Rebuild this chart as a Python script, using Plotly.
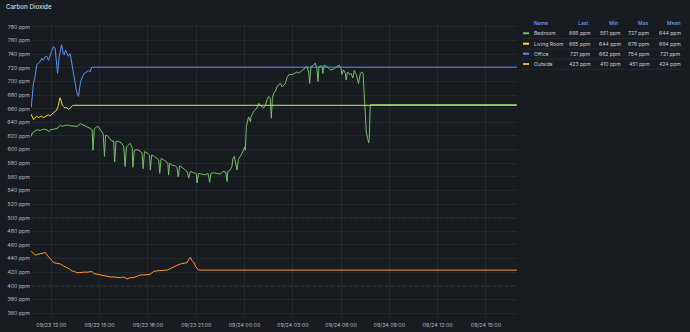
import plotly.graph_objects as go

# ---------------- data ----------------
END = "24 16:55"

bedroom_times = [
    "23 10:45", "23 10:48", "23 10:54", "23 11:07", "23 11:19", "23 11:31", "23 11:44", "23 11:50",
    "23 11:56", "23 12:09", "23 12:21", "23 12:34", "23 12:40", "23 12:46", "23 12:58", "23 13:11",
    "23 13:23", "23 13:36", "23 13:48", "23 14:00", "23 14:13", "23 14:25", "23 14:32", "23 14:35",
    "23 14:40", "23 14:50", "23 14:56", "23 15:05", "23 15:13", "23 15:18", "23 15:22", "23 15:30",
    "23 15:37", "23 15:46", "23 15:52", "23 15:56", "23 16:01", "23 16:11", "23 16:23", "23 16:30",
    "23 16:35", "23 16:40", "23 16:48", "23 16:54", "23 17:01", "23 17:04", "23 17:09", "23 17:19",
    "23 17:29", "23 17:38", "23 17:42", "23 17:47", "23 17:57", "23 18:06", "23 18:09", "23 18:14",
    "23 18:24", "23 18:34", "23 18:40", "23 18:44", "23 18:49", "23 18:59", "23 19:09", "23 19:14",
    "23 19:17", "23 19:21", "23 19:30", "23 19:42", "23 19:48", "23 19:53", "23 19:58", "23 20:07",
    "23 20:19", "23 20:26", "23 20:32", "23 20:38", "23 20:50", "23 21:00", "23 21:03", "23 21:09",
    "23 21:21", "23 21:34", "23 21:44", "23 21:50", "23 21:55", "23 22:05", "23 22:17", "23 22:30",
    "23 22:40", "23 22:50", "23 22:55", "23 22:58", "23 23:07", "23 23:13", "23 23:17", "23 23:22",
    "23 23:26", "23 23:29", "23 23:32", "23 23:37", "23 23:44", "23 23:57", "24 00:00", "24 00:03",
    "24 00:07", "24 00:12", "24 00:15", "24 00:22", "24 00:24", "24 00:28", "24 00:34", "24 00:46",
    "24 00:53", "24 00:59", "24 01:05", "24 01:11", "24 01:14", "24 01:18", "24 01:24", "24 01:30",
    "24 01:36", "24 01:40", "24 01:44", "24 01:49", "24 01:55", "24 02:01", "24 02:07", "24 02:14",
    "24 02:20", "24 02:26", "24 02:32", "24 02:38", "24 02:45", "24 02:57", "24 03:09", "24 03:16",
    "24 03:22", "24 03:28", "24 03:40", "24 03:47", "24 03:53", "24 03:59", "24 04:03", "24 04:08",
    "24 04:15", "24 04:24", "24 04:30", "24 04:34", "24 04:38", "24 04:49", "24 04:52", "24 04:57",
    "24 05:07", "24 05:20", "24 05:32", "24 05:45", "24 05:53", "24 06:00", "24 06:03", "24 06:09",
    "24 06:16", "24 06:19", "24 06:24", "24 06:32", "24 06:37", "24 06:44", "24 06:49", "24 06:57",
    "24 07:02", "24 07:05", "24 07:12", "24 07:18", "24 07:22", "24 07:24", "24 07:27", "24 07:30",
    "24 07:34", "24 07:39", "24 07:43", "24 07:45", "24 07:49", END,
]
bedroom_values = [
    619, 624, 626, 629, 628, 630, 629, 626,
    629, 630, 631, 636, 634, 635, 636, 635,
    635, 634, 638, 636, 634, 631, 629, 599,
    630, 634, 633, 628, 623, 590, 621, 620,
    616, 612, 613, 582, 612, 612, 609, 604,
    575, 604, 607, 609, 603, 574, 599, 600,
    598, 595, 572, 597, 595, 592, 570, 592,
    590, 587, 585, 565, 587, 585, 582, 580,
    563, 580, 577, 576, 574, 560, 576, 574,
    570, 568, 558, 568, 566, 565, 551, 565,
    564, 563, 565, 552, 565, 566, 565, 564,
    568, 567, 553, 568, 570, 575, 587, 590,
    582, 572, 570, 585, 590, 599, 604, 599,
    634, 643, 648, 641, 648, 651, 656, 661,
    668, 665, 663, 661, 663, 665, 673, 678,
    675, 646, 675, 683, 685, 692, 695, 697,
    692, 695, 697, 705, 710, 710, 712, 714,
    712, 714, 717, 719, 722, 714, 697, 722,
    723, 727, 719, 700, 722, 723, 712, 724,
    722, 717, 718, 722, 724, 719, 710, 717,
    712, 702, 714, 710, 712, 705, 716, 710,
    702, 697, 712, 714, 712, 695, 673, 648,
    626, 616, 610, 616, 666, 666,
]

living_times = [
    "23 10:44", "23 10:49", "23 10:54", "23 10:59", "23 11:05", "23 11:12", "23 11:18", "23 11:24",
    "23 11:30", "23 11:36", "23 11:43", "23 11:49", "23 11:55", "23 12:01", "23 12:07", "23 12:14",
    "23 12:20", "23 12:26", "23 12:32", "23 12:36", "23 12:41", "23 12:46", "23 12:51", "23 12:57",
    "23 13:03", "23 13:10", "23 13:16", "23 13:20", END,
]
living_values = [
    652, 648, 644, 646, 649, 647, 648, 649,
    647, 648, 649, 651, 649, 652, 654, 656,
    658, 665, 676, 672, 665, 663, 661, 662,
    659, 661, 664, 665, 665,
]

office_times = [
    "23 10:45", "23 10:49", "23 10:53", "23 10:59", "23 11:05", "23 11:12", "23 11:18", "23 11:24",
    "23 11:30", "23 11:36", "23 11:43", "23 11:49", "23 11:55", "23 12:01", "23 12:07", "23 12:14",
    "23 12:17", "23 12:23", "23 12:29", "23 12:34", "23 12:38", "23 12:44", "23 12:48", "23 12:53",
    "23 12:58", "23 13:03", "23 13:10", "23 13:13", "23 13:18", "23 13:23", "23 13:28", "23 13:34",
    "23 13:41", "23 13:44", "23 13:49", "23 13:56", "23 14:03", "23 14:12", "23 14:18", "23 14:24",
    "23 14:30", END,
]
office_values = [
    662, 687, 697, 707, 724, 727, 729, 734,
    731, 736, 737, 731, 739, 744, 751, 749,
    736, 712, 736, 749, 754, 741, 739, 746,
    741, 737, 741, 734, 722, 707, 695, 685,
    678, 687, 700, 707, 712, 714, 716, 714,
    721, 721,
]

outside_times = [
    "23 10:45", "23 10:54", "23 11:00", "23 11:07", "23 11:19", "23 11:31", "23 11:38", "23 11:44",
    "23 11:50", "23 11:56", "23 12:02", "23 12:09", "23 12:21", "23 12:34", "23 12:46", "23 12:58",
    "23 13:11", "23 13:17", "23 13:23", "23 13:36", "23 13:48", "23 14:00", "23 14:13", "23 14:25",
    "23 14:32", "23 14:38", "23 14:50", "23 15:03", "23 15:15", "23 15:27", "23 15:40", "23 15:52",
    "23 16:05", "23 16:17", "23 16:30", "23 16:42", "23 16:54", "23 17:07", "23 17:19", "23 17:32",
    "23 17:44", "23 17:56", "23 18:09", "23 18:15", "23 18:21", "23 18:34", "23 18:46", "23 18:59",
    "23 19:11", "23 19:23", "23 19:36", "23 19:48", "23 20:01", "23 20:13", "23 20:26", "23 20:32",
    "23 20:38", "23 20:44", "23 20:50", "23 20:57", "23 21:03", "23 21:09", END,
]
outside_values = [
    451, 448, 445, 446, 447, 448, 449, 445,
    442, 439, 437, 434, 433, 432, 429, 427,
    424, 421, 422, 419, 420, 420, 420, 421,
    421, 418, 417, 415, 414, 413, 413, 413,
    412, 412, 413, 410, 412, 412, 414, 416,
    416, 416, 417, 419, 421, 422, 422, 422,
    423, 425, 428, 430, 432, 433, 434, 439,
    442, 437, 435, 429, 425, 423, 423,
]

series_names = ["Bedroom", "Living Room", "Office", "Outside"]
series_colors = ["#73bf69", "#fade2a", "#5794f2", "#ff9830"]
legend_last = ["666 ppm", "665 ppm", "721 ppm", "423 ppm"]
legend_min = ["551 ppm", "644 ppm", "662 ppm", "410 ppm"]
legend_max = ["727 ppm", "676 ppm", "754 ppm", "451 ppm"]
legend_mean = ["644 ppm", "664 ppm", "721 ppm", "424 ppm"]
legend_headers = ["Name", "Last", "Min", "Max", "Mean"]

threshold_values = [600, 500, 400]
threshold_colors = ["#84566a", "#707068", "#5f705f"]

x_range = ["2023-09-23 10:44", "2023-09-24 16:56"]
y_range = [354.2, 787.3]


def ts(s):
    d, hm = s.split()
    return f"2023-09-{d} {hm}"


# ---------------- figure ----------------
W, H = 690, 332
ML, MR, MT, MB = 31, 173, 22, 15
PW, PH = W - ML - MR, H - MT - MB


def px_x(px):
    return (px - ML) / PW


def px_y(py):
    return (H - MB - py) / PH


BG = "#181b1f"
FONT = "Inter"
TXT = "#ccccdc"
TICK = "#b8b9c0"
LEG_SIZE = 5.1
TICK_SIZE = 5.3

fig = go.Figure()
all_series = [
    (bedroom_times, bedroom_values),
    (living_times, living_values),
    (office_times, office_values),
    (outside_times, outside_values),
]
for (t, v), name, col in zip(all_series, series_names, series_colors):
    fig.add_trace(go.Scatter(
        x=[ts(s) for s in t], y=v, mode="lines", name=name,
        line=dict(color=col, width=1), showlegend=False, hoverinfo="skip",
    ))

shapes = []
for val, col in zip(threshold_values, threshold_colors):
    shapes.append(dict(type="line", xref="paper", yref="y", x0=0, x1=1, y0=val, y1=val,
                       line=dict(color=col, width=1, dash="3px,3px"), layer="below"))

annotations = [dict(text="Carbon Dioxide", x=px_x(4), y=px_y(7), xref="paper", yref="paper",
                    xanchor="left", yanchor="middle", showarrow=False,
                    font=dict(family=FONT, size=6.2, color="#d8d9da", weight=500))]

# legend table
header_y = 23
row_ys = [33.3, 43.7, 53.7, 64.0]
header_x = [532, 590.5, 619.5, 650.5, 683]
value_x = [592.5, 623, 652, 683]
for i, h in enumerate(legend_headers):
    annotations.append(dict(text=h, x=px_x(header_x[i]), y=px_y(header_y), xref="paper", yref="paper",
                            xanchor="left" if i == 0 else "right", yanchor="middle", showarrow=False,
                            font=dict(family=FONT, size=LEG_SIZE, color="#6e9fff", weight=500)))
for r, name in enumerate(series_names):
    y = row_ys[r]
    annotations.append(dict(text=name, x=px_x(532), y=px_y(y), xref="paper", yref="paper",
                            xanchor="left", yanchor="middle", showarrow=False,
                            font=dict(family=FONT, size=LEG_SIZE, color=TXT)))
    for j, col_vals in enumerate([legend_last, legend_min, legend_max, legend_mean]):
        annotations.append(dict(text=col_vals[r], x=px_x(value_x[j]), y=px_y(y), xref="paper", yref="paper",
                                xanchor="right", yanchor="middle", showarrow=False,
                                font=dict(family=FONT, size=LEG_SIZE, color=TXT)))
    shapes.append(dict(type="line", xref="paper", yref="paper", x0=px_x(523), x1=px_x(529),
                       y0=px_y(y), y1=px_y(y), line=dict(color=series_colors[r], width=2)))
    shapes.append(dict(type="line", xref="paper", yref="paper", x0=px_x(521), x1=px_x(686),
                       y0=px_y(y + 5.3), y1=px_y(y + 5.3), line=dict(color="#26292e", width=1)))

fig.update_layout(
    width=W, height=H, margin=dict(l=ML, r=MR, t=MT, b=MB, pad=0, autoexpand=False),
    paper_bgcolor=BG, plot_bgcolor=BG,
    font=dict(family=FONT, color=TXT),
    shapes=shapes, annotations=annotations, showlegend=False,
    xaxis=dict(type="date", range=x_range, tick0="2023-09-23 00:00", dtick=3 * 3600 * 1000,
               tickformat="%m/%d %H:%M", showgrid=True, gridcolor="#24272c", gridwidth=1,
               zeroline=False, showline=False, ticks="", ticklabelstandoff=4, automargin=False,
               tickfont=dict(family=FONT, size=TICK_SIZE, color=TICK)),
    yaxis=dict(range=y_range, tick0=0, dtick=20, ticksuffix=" ppm", showgrid=True,
               gridcolor="#24272c", gridwidth=1, zeroline=False, showline=False, ticks="",
               automargin=False, tickfont=dict(family=FONT, size=TICK_SIZE, color=TICK)),
)

fig.write_html("out.html")
